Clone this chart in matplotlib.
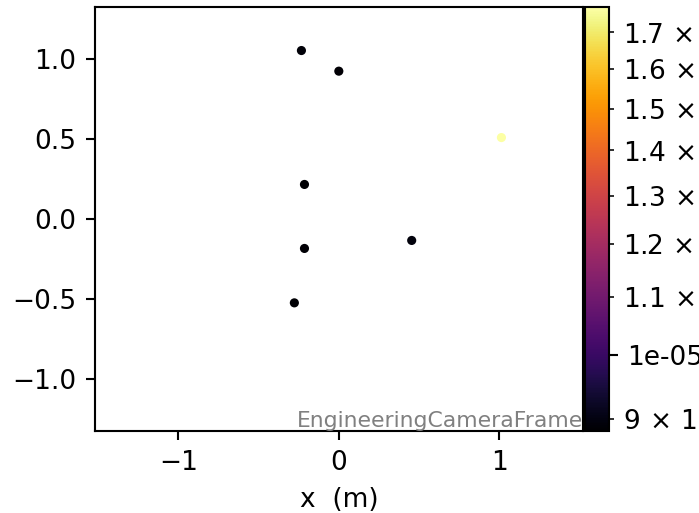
"""Scatter of points in the engineering camera frame, coloured on a log scale."""

import matplotlib

matplotlib.use("Agg")
import matplotlib.pyplot as plt
import numpy as np
from matplotlib.colors import LogNorm
from matplotlib.ticker import FuncFormatter

# point positions (m) and their value
x_pos = [-0.234, -0.001, 1.012, -0.215, -0.215, 0.453, -0.278]
y_pos = [1.056, 0.927, 0.512, 0.219, -0.181, -0.131, -0.521]
values = [8.90e-6, 8.85e-6, 1.771e-5, 8.82e-6, 8.86e-6, 8.95e-6, 8.84e-6]

frame_name = "EngineeringCameraFrame"


def sci_label(v, pos):
    # minor colorbar ticks, written as "c × 10^e"
    exp = int(np.floor(np.log10(v) + 1e-9))
    coeff = round(v / 10.0**exp, 1)
    return rf"$\mathdefault{{{coeff:g}\,\times\,10^{{{exp}}}}}$"


DPI = 190
fig = plt.figure(figsize=(699 / DPI, 513 / DPI), dpi=DPI)
ax = fig.add_axes([0.1359, 0.1589, 0.6981, 0.8265])
cax = fig.add_axes([0.8376, 0.1589, 0.0336, 0.8265])

sc = ax.scatter(x_pos, y_pos, c=values, cmap="inferno",
                norm=LogNorm(vmin=min(values), vmax=max(values)), s=12, lw=0)
ax.set_xlim(-1.52, 1.52)
ax.set_ylim(-1.325, 1.325)
ax.set_xlabel("x  (m)")
ax.text(1.0, 0.0, frame_name, transform=ax.transAxes, ha="right", va="bottom",
        color="gray", fontsize=8.3)

cbar = fig.colorbar(sc, cax=cax, format="%.0e")
cbar.ax.yaxis.set_minor_formatter(FuncFormatter(sci_label))

fig.savefig("out.png", dpi=DPI)
